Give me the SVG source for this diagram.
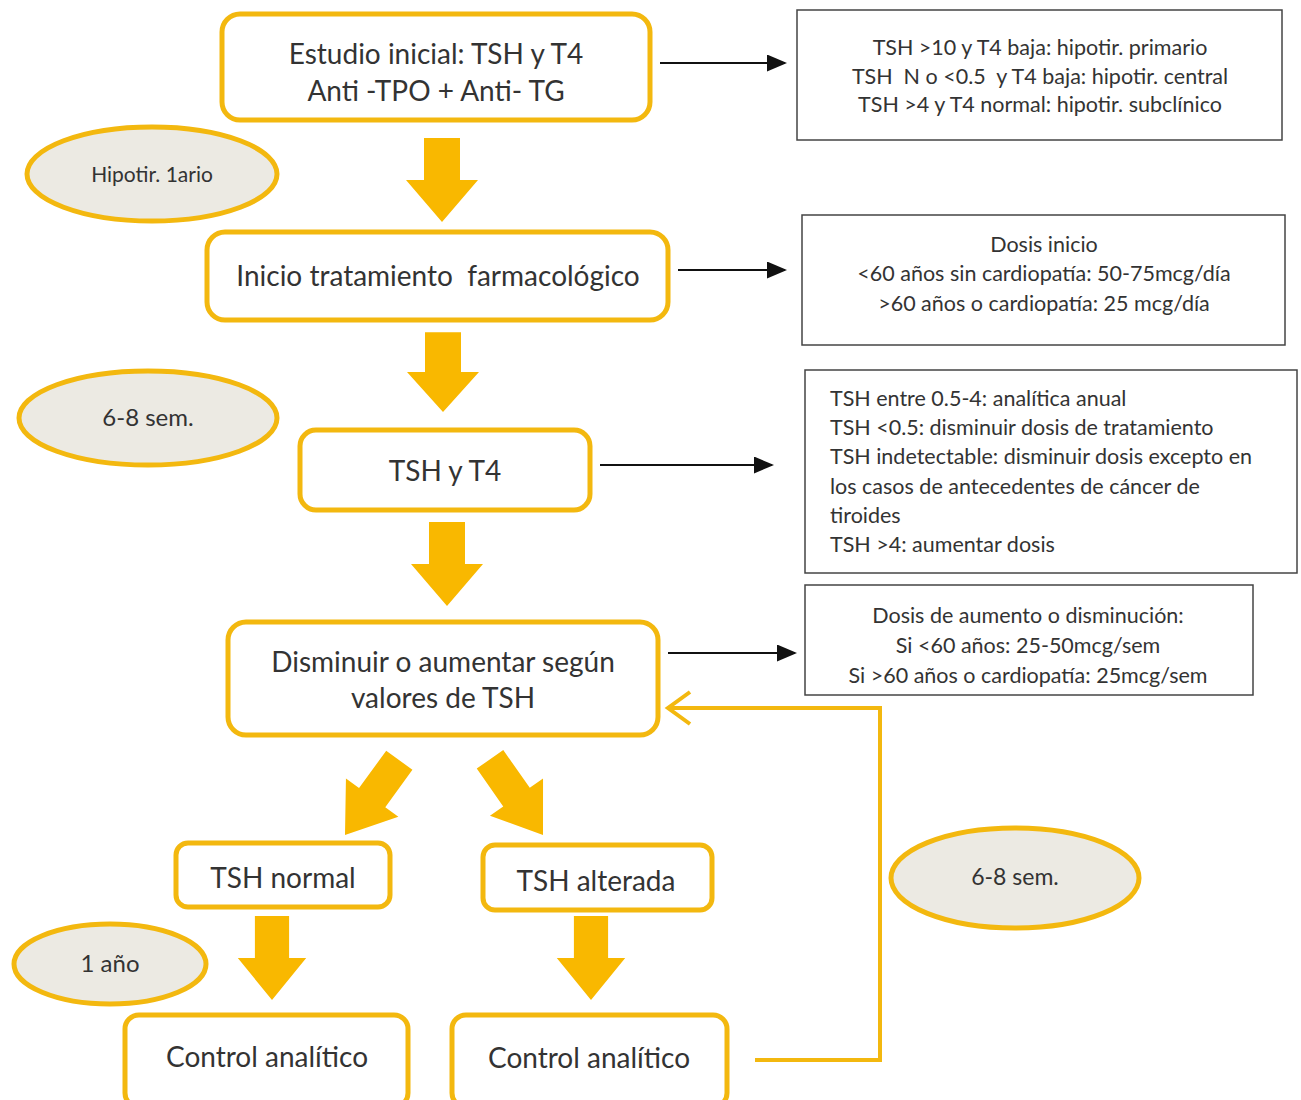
<svg xmlns="http://www.w3.org/2000/svg" width="1301" height="1100" viewBox="0 0 1301 1100">
<style>
.box{fill:#fff;stroke:#F3B80F;stroke-width:5}
.info{fill:#fff;stroke:#444;stroke-width:1.5}
.ell{fill:#ECEAE3;stroke:#F3B80F;stroke-width:5}
.barrow{fill:#F9B800}
.t{font-family:Lato,"Open Sans",sans-serif;fill:#333;text-anchor:middle}
.big{font-size:28px}
.sm{font-size:21.5px}
.l{text-anchor:start}
.con{stroke:#111;stroke-width:2;fill:none}
</style>
<defs>
<marker id="ah" viewBox="0 0 10 10" refX="9" refY="5" markerWidth="20" markerHeight="17" preserveAspectRatio="none" markerUnits="userSpaceOnUse" orient="auto">
<path d="M0,0 L10,5 L0,10 z" fill="#111"/>
</marker>
<path id="down" d="M-18,-84 L18,-84 L18,-42 L36,-42 L0,0 L-36,-42 L-18,-42 z"/>
</defs>

<g id="connectors">
<line class="con" x1="660" y1="63" x2="785" y2="63" marker-end="url(#ah)"/>
<line class="con" x1="678" y1="270" x2="785" y2="270" marker-end="url(#ah)"/>
<line class="con" x1="600" y1="465" x2="772" y2="465" marker-end="url(#ah)"/>
<line class="con" x1="668" y1="653" x2="795" y2="653" marker-end="url(#ah)"/>
<polyline points="755,1060 880,1060 880,708 668,708" fill="none" stroke="#F3B80F" stroke-width="4"/>
<polyline points="690,692 668,708 690,724" fill="none" stroke="#F3B80F" stroke-width="4"/>
<use href="#down" class="barrow" transform="translate(442,222)"/>
<use href="#down" class="barrow" transform="translate(443,412) scale(1,0.95)"/>
<use href="#down" class="barrow" transform="translate(447,606)"/>
<use href="#down" class="barrow" transform="translate(345,835) rotate(36) scale(0.9,1.1)"/>
<use href="#down" class="barrow" transform="translate(543,835) rotate(-35) scale(0.9,1.1)"/>
<use href="#down" class="barrow" transform="translate(272,1000) scale(0.95,1)"/>
<use href="#down" class="barrow" transform="translate(591,1000) scale(0.95,1)"/>
</g>

<g id="n1"><rect class="box" x="222" y="14" width="428" height="106" rx="18"/>
<text class="t big" x="436" y="64">Estudio inicial: TSH y T4</text>
<text class="t big" x="436" y="101">Anti -TPO + Anti- TG</text></g>

<g id="i1"><rect class="info" x="797" y="10" width="485" height="130"/>
<text class="t sm" x="1040" y="55">TSH &gt;10 y T4 baja: hipotir. primario</text>
<text class="t sm" x="1040" y="84" xml:space="preserve">TSH  N o &lt;0.5  y T4 baja: hipotir. central</text>
<text class="t sm" x="1040" y="112">TSH &gt;4 y T4 normal: hipotir. subclínico</text></g>

<g id="e1"><ellipse class="ell" cx="152" cy="174" rx="125" ry="47"/>
<text class="t" style="font-size:21px" x="152" y="182">Hipotir. 1ario</text></g>

<g id="n2"><rect class="box" x="207" y="232" width="461" height="88" rx="18"/>
<text class="t big" x="438" y="286" xml:space="preserve">Inicio tratamiento  farmacológico</text></g>

<g id="i2"><rect class="info" x="802" y="215" width="483" height="130"/>
<text class="t sm" x="1044" y="252">Dosis inicio</text>
<text class="t sm" x="1044" y="281">&lt;60 años sin cardiopatía: 50-75mcg/día</text>
<text class="t sm" x="1044" y="311">&gt;60 años o cardiopatía: 25 mcg/día</text></g>

<g id="e2"><ellipse class="ell" cx="148" cy="418" rx="129" ry="47"/>
<text class="t" style="font-size:24px" x="148" y="426">6-8 sem.</text></g>

<g id="n3"><rect class="box" x="300" y="430" width="290" height="80" rx="16"/>
<text class="t big" x="445" y="481">TSH y T4</text></g>

<g id="i3"><rect class="info" x="805" y="370" width="492" height="203"/>
<text class="t sm l" x="830" y="406">TSH entre 0.5-4: analítica anual</text>
<text class="t sm l" x="830" y="435">TSH &lt;0.5: disminuir dosis de tratamiento</text>
<text class="t sm l" x="830" y="464">TSH indetectable: disminuir dosis excepto en</text>
<text class="t sm l" x="830" y="494">los casos de antecedentes de cáncer de</text>
<text class="t sm l" x="830" y="523">tiroides</text>
<text class="t sm l" x="830" y="552">TSH &gt;4: aumentar dosis</text></g>

<g id="n4"><rect class="box" x="228" y="622" width="430" height="113" rx="18"/>
<text class="t big" x="443" y="672">Disminuir o aumentar según</text>
<text class="t big" x="443" y="708">valores de TSH</text></g>

<g id="i4"><rect class="info" x="805" y="585" width="448" height="110"/>
<text class="t sm" x="1028" y="623">Dosis de aumento o disminución:</text>
<text class="t sm" x="1028" y="653">Si &lt;60 años: 25-50mcg/sem</text>
<text class="t sm" x="1028" y="683">Si &gt;60 años o cardiopatía: 25mcg/sem</text></g>

<g id="n5"><rect class="box" x="176" y="843" width="214" height="64" rx="12"/>
<text class="t big" x="283" y="888">TSH normal</text></g>

<g id="n6"><rect class="box" x="483" y="845" width="229" height="65" rx="12"/>
<text class="t big" x="596" y="891">TSH alterada</text></g>

<g id="e3"><ellipse class="ell" cx="1015" cy="878" rx="124" ry="50"/>
<text class="t" style="font-size:23px" x="1015" y="885">6-8 sem.</text></g>

<g id="e4"><ellipse class="ell" cx="110" cy="964" rx="96" ry="40"/>
<text class="t" style="font-size:24px" x="110" y="972">1 año</text></g>

<g id="n7"><rect class="box" x="125" y="1015" width="283" height="92" rx="14"/>
<text class="t big" x="267" y="1067">Control analítico</text></g>

<g id="n8"><rect class="box" x="452" y="1015" width="275" height="92" rx="14"/>
<text class="t big" x="589" y="1068">Control analítico</text></g>
</svg>
